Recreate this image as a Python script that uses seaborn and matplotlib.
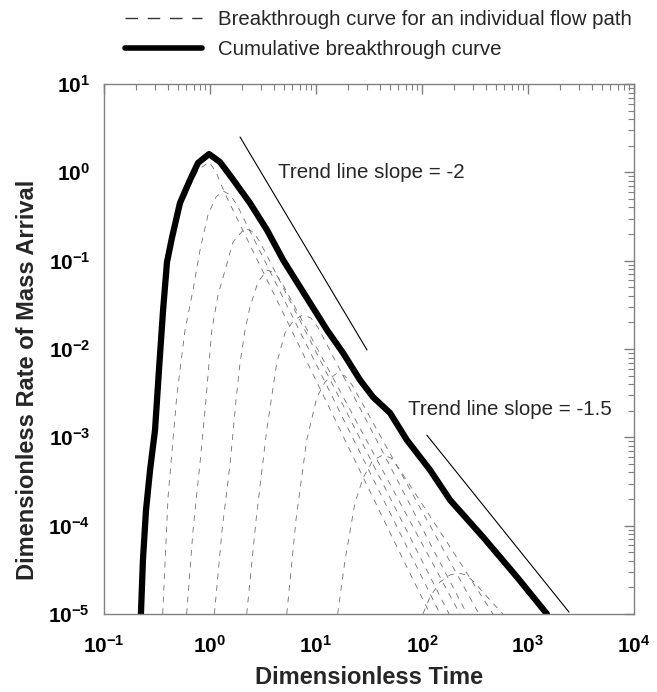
import numpy as np
import matplotlib
matplotlib.use("Agg")
import matplotlib.pyplot as plt
from matplotlib.lines import Line2D
from matplotlib.ticker import FixedLocator, FixedFormatter
import pandas as pd
import seaborn as sns

# cumulative breakthrough curve
t_cum = [0.223, 0.233, 0.249, 0.272, 0.303, 0.330, 0.361, 0.393, 0.439, 0.521, 0.647, 0.771,
         0.98, 1.24, 1.61, 2.38, 3.45, 4.89, 7.06, 12.7, 18.0, 26.0, 34.5, 49.9, 72.1,
         119, 184, 376, 787, 1510]
v_cum = [1e-5, 4.08e-5, 1.50e-4, 4.27e-4, 1.21e-3, 5.78e-3, 0.0277, 0.0966, 0.185, 0.450, 0.818, 1.28,
         1.61, 1.31, 0.863, 0.450, 0.222, 0.102, 0.0504, 0.0164, 0.00902, 0.00446, 0.00286, 0.00189, 9.3e-4,
         4.27e-4, 1.95e-4, 7.45e-5, 2.62e-5, 1.0e-5]

# breakthrough curves of the individual flow paths
t_p1 = [0.223, 0.233, 0.249, 0.272, 0.303, 0.330, 0.361, 0.393, 0.439, 0.521, 0.647, 0.771, 0.98, 1.14, 1.36, 8.77, 58.1, 119]
v_p1 = [1e-5, 4.08e-5, 1.50e-4, 4.27e-4, 1.21e-3, 5.50e-3, 0.0249, 0.0826, 0.158, 0.375, 0.700, 1.06, 1.31, 1.01, 0.600, 6.10e-3, 5.74e-5, 1e-5]

t_p2 = [0.358, 0.402, 0.485, 0.581, 0.692, 0.805, 0.957, 1.14, 1.33, 1.55, 1.80, 11.4, 72.1, 148]
v_p2 = [1e-5, 2.11e-4, 2.86e-3, 0.0164, 0.0466, 0.132, 0.329, 0.526, 0.615, 0.555, 0.426, 4.94e-3, 5.74e-5, 1e-5]

t_p3 = [0.602, 0.692, 0.805, 0.916, 1.04, 1.19, 1.39, 1.65, 2.14, 2.55, 2.96, 16.1, 85.9, 180]
v_p3 = [1e-5, 8.93e-5, 5.12e-4, 2.65e-3, 0.0164, 0.0408, 0.0783, 0.163, 0.234, 0.211, 0.163, 3.01e-3, 5.74e-5, 1e-5]

t_p4 = [1.10, 1.30, 1.55, 1.76, 1.92, 2.14, 2.38, 2.84, 3.45, 4.10, 4.78, 22.3, 104, 228]
v_p4 = [1e-5, 8.93e-5, 5.12e-4, 2.65e-3, 6.95e-3, 0.0164, 0.0299, 0.0574, 0.0783, 0.0726, 0.0558, 1.79e-3, 5.74e-5, 1e-5]

t_p5 = [2.22, 2.72, 3.43, 4.26, 5.10, 6.20, 7.54, 8.97, 10.4, 36.0, 124, 266]
v_p5 = [1e-5, 1.16e-4, 1.21e-3, 6.95e-3, 0.0152, 0.0213, 0.0243, 0.0224, 0.0177, 1.01e-3, 5.74e-5, 1e-5]

t_p6 = [5.30, 6.47, 8.17, 10.2, 12.2, 15.8, 18.8, 21.9, 58.1, 154, 345]
v_p6 = [1e-5, 1.16e-4, 9.3e-4, 2.86e-3, 4.24e-3, 5.34e-3, 4.94e-3, 3.92e-3, 4.74e-4, 5.74e-5, 1e-5]

t_p7 = [16.0, 18.8, 23.3, 27.8, 34.5, 42.9, 51.0, 59.4, 184, 468]
v_p7 = [1e-5, 4.08e-5, 1.81e-4, 3.47e-4, 5.53e-4, 6.31e-4, 5.83e-4, 4.61e-4, 5.74e-5, 1e-5]

t_p8 = [102, 119, 148, 184, 219, 260, 310, 438, 581]
v_p8 = [1e-5, 1.56e-5, 2.30e-5, 2.77e-5, 2.91e-5, 2.77e-5, 2.30e-5, 1.44e-5, 1e-5]

# trend lines
trend1_t = [1.92, 30.3]
trend1_v = [2.51, 0.00975]
trend2_t = [111, 2438]
trend2_v = [1.06e-3, 1.05e-5]

x_ticks = [0.1, 1, 10, 100, 1000, 10000]
x_tick_labels = ['-1', '0', '1', '2', '3', '4']
y_ticks = [1e-5, 1e-4, 1e-3, 1e-2, 1e-1, 1, 10]
y_tick_labels = ['-5', '-4', '-3', '-2', '-1', '0', '1']

sns.set_style("white")
plt.rcParams['font.family'] = ['Liberation Sans', 'DejaVu Sans']
plt.rcParams['mathtext.fontset'] = 'custom'
plt.rcParams['mathtext.rm'] = 'Liberation Sans'
plt.rcParams['mathtext.bf'] = 'Liberation Sans:bold'

fig = plt.figure(figsize=(6.57, 6.92), dpi=100)
ax = fig.add_axes([104 / 657, 1 - 614 / 692, 530 / 657, 530 / 692])
ax.set_xscale('log')
ax.set_yscale('log')

paths = [(t_p1, v_p1), (t_p2, v_p2), (t_p3, v_p3), (t_p4, v_p4),
         (t_p5, v_p5), (t_p6, v_p6), (t_p7, v_p7), (t_p8, v_p8)]
df = pd.concat([pd.DataFrame({'t': t, 'v': v, 'path': i}) for i, (t, v) in enumerate(paths)])

sns.lineplot(data=df, x='t', y='v', units='path', estimator=None, sort=False,
             color='#707070', linewidth=0.6, linestyle=(0, (7, 7)), ax=ax)
sns.lineplot(x=t_cum, y=v_cum, sort=False, color='black', linewidth=4.5,
             solid_joinstyle='round', ax=ax)
sns.lineplot(x=trend1_t, y=trend1_v, sort=False, color='black', linewidth=0.8, ax=ax)
sns.lineplot(x=trend2_t, y=trend2_v, sort=False, color='black', linewidth=0.8, ax=ax)

ax.text(4.4, 1.0, 'Trend line slope = -2', fontsize=14.8, va='center', ha='left')
ax.text(73.8, 2.04e-3, 'Trend line slope = -1.5', fontsize=14.8, va='center', ha='left')

ax.set_xlim(0.1, 10000)
ax.set_ylim(1e-5, 10)
ax.xaxis.set_major_locator(FixedLocator(x_ticks))
ax.xaxis.set_major_formatter(FixedFormatter([r'$\mathbf{10^{%s}}$' % s for s in x_tick_labels]))
ax.yaxis.set_major_locator(FixedLocator(y_ticks))
ax.yaxis.set_major_formatter(FixedFormatter([r'$\mathbf{10^{%s}}$' % s for s in y_tick_labels]))

for sp in ax.spines.values():
    sp.set_color('#808080')
    sp.set_linewidth(1.0)
ax.tick_params(which='both', direction='in', top=True, right=True, colors='#808080',
               labelcolor='black', labelsize=15)
ax.tick_params(which='major', length=7, width=1)
ax.tick_params(which='minor', length=4, width=0.8)
ax.tick_params(axis='x', which='major', pad=15)
ax.tick_params(axis='y', which='major', pad=10)

ax.set_xlabel('Dimensionless Time', fontsize=17, fontweight='bold', labelpad=7)
ax.set_ylabel('Dimensionless Rate of Mass Arrival', fontsize=17, fontweight='bold')
ax.yaxis.set_label_coords(-0.122, 0.4415)

handles = [Line2D([], [], color='#333333', linewidth=1.0, linestyle=(0, (9, 7))),
           Line2D([], [], color='black', linewidth=4.0)]
labels = ['Breakthrough curve for an individual flow path', 'Cumulative breakthrough curve']
fig.legend(handles, labels, loc='upper left', bbox_to_anchor=(125 / 657, 1 - 10 / 692),
           frameon=False, fontsize=14.7, handlelength=3.77, handletextpad=0.78,
           labelspacing=0.55, borderpad=0, borderaxespad=0)

fig.savefig('out.png', dpi=100)
